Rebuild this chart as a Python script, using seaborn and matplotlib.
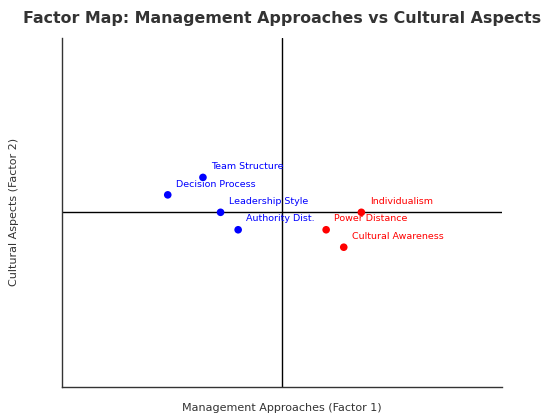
import matplotlib.pyplot as plt
import seaborn as sns
import pandas as pd

# Factor coordinates
mgmt_labels = ["Team Structure", "Decision Process", "Leadership Style", "Authority Dist."]
mgmt_f1 = [-0.36, -0.52, -0.28, -0.20]
mgmt_f2 = [0.20, 0.10, 0.00, -0.10]

cult_labels = ["Individualism", "Power Distance", "Cultural Awareness"]
cult_f1 = [0.36, 0.20, 0.28]
cult_f2 = [0.00, -0.10, -0.20]

df = pd.concat([
    pd.DataFrame({"label": mgmt_labels, "f1": mgmt_f1, "f2": mgmt_f2, "group": "Management"}),
    pd.DataFrame({"label": cult_labels, "f1": cult_f1, "f2": cult_f2, "group": "Culture"}),
], ignore_index=True)
colors = {"Management": "blue", "Culture": "red"}

sns.set_style("white")
plt.rcParams['font.family'] = ['DejaVu Sans']

fig, ax = plt.subplots(figsize=(5.5, 4.2), dpi=100)
ax.axhline(0, color="black", lw=1, zorder=1)
ax.axvline(0, color="black", lw=1, zorder=1)

sns.scatterplot(data=df, x="f1", y="f2", hue="group", palette=colors,
                s=30, edgecolor="none", legend=False, ax=ax, zorder=3)

for _, row in df.iterrows():
    ax.annotate(row["label"], xy=(row["f1"], row["f2"]), textcoords="offset points",
                xytext=(6, 6), fontsize=6.8, color=colors[row["group"]])

ax.set_xlim(-1, 1)
ax.set_ylim(-1, 1)
ax.set_xticks([])
ax.set_yticks([])
sns.despine(ax=ax)
for s in ["left", "bottom"]:
    ax.spines[s].set_color("#333333")
    ax.spines[s].set_linewidth(1)

ax.set_xlabel("Management Approaches (Factor 1)", fontsize=8, color="#333333", labelpad=12)
ax.set_ylabel("Cultural Aspects (Factor 2)", fontsize=8, color="#333333", labelpad=31)
ax.set_title("Factor Map: Management Approaches vs Cultural Aspects",
             fontsize=11.4, fontweight="bold", color="#333333", pad=11)

fig.subplots_adjust(left=0.113, right=0.913, top=0.91, bottom=0.079)
fig.savefig("out.png", dpi=100)
